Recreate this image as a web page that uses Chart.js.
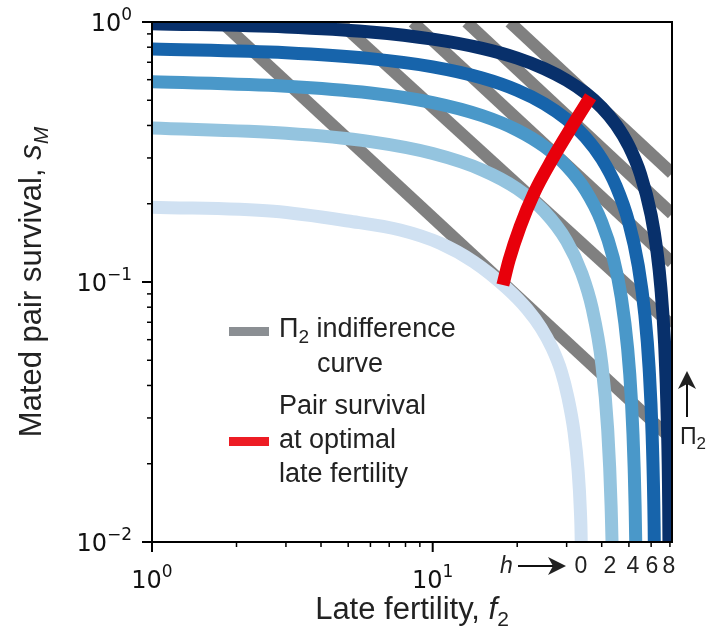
<!DOCTYPE html>
<html>
<head>
<meta charset="utf-8">
<script src="https://cdn.jsdelivr.net/npm/chart.js@4.4.0/dist/chart.umd.min.js"></script>
<style>
  html, body { margin: 0; padding: 0; background: #fff; }
  canvas { display: block; }
</style>
</head>
<body>
<canvas id="myChart" width="709" height="638"></canvas>
<script>
// h levels, one trade-off curve each
const hLevels = ['0', '2', '4', '6', '8'];
const blues = ['#d0e1f2', '#94c4df', '#4a98c9', '#1764ab', '#08306b'];

// late fertility f2 / mated pair survival sM
const fertH0 = [1, 2.71, 5, 7.66, 10.63, 14, 18.37, 21.69, 24.33, 26.62, 28.67, 30.35, 31.88, 32.95, 33.57, 33.82, 33.93];
const survH0 = [0.194, 0.187, 0.1716, 0.1585, 0.1409, 0.1195, 0.0946, 0.0787, 0.0665, 0.0557, 0.0455, 0.0358, 0.0265, 0.0189, 0.01327, 0.00974, 0.00598];
const fertH2 = [1, 3, 6, 10, 15, 20, 25, 30, 34, 37, 40, 42, 43.2, 43.8, 44.1];
const survH2 = [0.391, 0.373, 0.3465, 0.3119, 0.2698, 0.2284, 0.1867, 0.1438, 0.1077, 0.0791, 0.0487, 0.0272, 0.0138, 0.00697, 0.0035];
const fertH4 = [1, 3, 6, 10, 15, 20, 25, 30, 35, 40, 44, 47, 49.5, 51, 52.2, 52.9, 53.3];
const survH4 = [0.5888, 0.5664, 0.5333, 0.4897, 0.4362, 0.3837, 0.3316, 0.2791, 0.2256, 0.1701, 0.1235, 0.087, 0.0552, 0.0355, 0.0193, 0.00973, 0.0042];
const fertH6 = [1, 3, 6, 10, 15, 20, 25, 30, 35, 40, 45, 50, 54, 57, 59, 60.5, 61.5, 62];
const survH6 = [0.787, 0.7615, 0.723, 0.6723, 0.6093, 0.5468, 0.4846, 0.4225, 0.3602, 0.2974, 0.2338, 0.1687, 0.1154, 0.0746, 0.0468, 0.0257, 0.01146, 0.00431];
const fertH8 = [1, 3, 6, 10, 15, 20, 25, 30, 35, 40, 45, 50, 55, 60, 63, 65, 67, 68.5, 69.3, 69.8];
const survH8 = [0.9857, 0.957, 0.915, 0.859, 0.7915, 0.726, 0.661, 0.597, 0.5335, 0.469, 0.4024, 0.333, 0.2598, 0.1809, 0.1302, 0.0949, 0.0581, 0.0295, 0.0139, 0.004];

// pair survival at optimal late fertility (red)
const fertOpt = [17.78, 18.72, 20.48, 22.97, 26.56, 31.29, 36.5];
const survOpt = [0.0974, 0.1215, 0.1632, 0.22, 0.2945, 0.3957, 0.516];

// Pi2 indifference lines: f2 where they leave the top (sM = 1), sM where they leave the right side
const xMax = 71.2;
const indiffTopF = [1.77, 4.65, 8.5, 13.2, 18.8];
const indiffRightS = [0.0248, 0.068, 0.1188, 0.183, 0.262];

// ticks
const xMajor = [1, 10];
const xMinor = [2, 3, 4, 5, 6, 7, 8, 9, 20, 30, 40, 50, 60, 70];
const yMajor = [1, 0.1, 0.01];
const yMinor = [0.9, 0.8, 0.7, 0.6, 0.5, 0.4, 0.3, 0.2, 0.09, 0.08, 0.07, 0.06, 0.05, 0.04, 0.03, 0.02];
const xTickExp = ['0', '1'];
const yTickExp = ['0', '\u22121', '\u22122'];

const zip = (xs, ys) => xs.map((x, i) => ({ x: x, y: ys[i] }));

const curves = [[fertH0, survH0], [fertH2, survH2], [fertH4, survH4], [fertH6, survH6], [fertH8, survH8]];

let datasets = [];
indiffTopF.forEach((f, i) => {
    datasets.push({
        data: [{ x: f, y: 1 }, { x: xMax, y: indiffRightS[i] }],
        borderColor: '#808080', borderWidth: 12, order: 10
    });
});
curves.forEach((c, i) => {
    datasets.push({
        label: 'h = ' + hLevels[i],
        data: zip(c[0], c[1]),
        borderColor: blues[i], borderWidth: 13, order: 5 - i,
        cubicInterpolationMode: 'monotone'
    });
});
datasets.push({
    data: zip(fertOpt, survOpt),
    borderColor: '#e8000b', borderWidth: 13, order: 0,
    cubicInterpolationMode: 'monotone'
});
datasets.forEach(d => { d.pointRadius = 0; d.showLine = true; d.clip = 0; d.fill = false; });

const SANS = '"Liberation Sans", Arial, sans-serif';
const DEJA = '"DejaVu Sans", sans-serif';

function drawRuns(ctx, runs, x, y, align) {
    let w = 0;
    runs.forEach(r => { ctx.font = r.font; r.w = ctx.measureText(r.t).width; w += r.w; });
    let cx = align === 'center' ? x - w / 2 : (align === 'right' ? x - w : x);
    ctx.textAlign = 'left';
    ctx.textBaseline = 'alphabetic';
    runs.forEach(r => { ctx.font = r.font; ctx.fillText(r.t, cx, y + (r.dy || 0)); cx += r.w; });
}

function arrowHead(ctx, tx, ty, dir) {
    // dir: 'right' or 'up'
    ctx.beginPath();
    if (dir === 'right') {
        ctx.moveTo(tx, ty); ctx.lineTo(tx - 18, ty - 9); ctx.lineTo(tx - 13, ty); ctx.lineTo(tx - 18, ty + 9);
    } else {
        ctx.moveTo(tx, ty); ctx.lineTo(tx - 9, ty + 18); ctx.lineTo(tx, ty + 13); ctx.lineTo(tx + 9, ty + 18);
    }
    ctx.closePath();
    ctx.fill();
}

const extras = {
    id: 'extras',
    afterDatasetsDraw(chart) {
        const ctx = chart.ctx;
        const a = chart.chartArea;
        const xs = chart.scales.x, ys = chart.scales.y;
        ctx.save();
        ctx.strokeStyle = '#000';
        ctx.fillStyle = '#000';
        ctx.lineWidth = 2;
        ctx.strokeRect(a.left, a.top, a.right - a.left, a.bottom - a.top);

        // ticks
        const tick = (x1, y1, x2, y2, w) => { ctx.lineWidth = w; ctx.beginPath(); ctx.moveTo(x1, y1); ctx.lineTo(x2, y2); ctx.stroke(); };
        xMajor.forEach(v => { const p = xs.getPixelForValue(v); tick(p, a.bottom, p, a.bottom + 10, 2); });
        xMinor.forEach(v => { const p = xs.getPixelForValue(v); tick(p, a.bottom, p, a.bottom + 5, 1.5); });
        yMajor.forEach(v => { const p = ys.getPixelForValue(v); tick(a.left, p, a.left - 10, p, 2); });
        yMinor.forEach(v => { const p = ys.getPixelForValue(v); tick(a.left, p, a.left - 5, p, 1.5); });

        // tick labels
        ctx.fillStyle = '#111';
        xMajor.forEach((v, i) => {
            drawRuns(ctx, [{ t: '10', font: '24px ' + DEJA }, { t: xTickExp[i], font: '17px ' + DEJA, dy: -11 }],
                xs.getPixelForValue(v), a.bottom + 46, 'center');
        });
        yMajor.forEach((v, i) => {
            drawRuns(ctx, [{ t: '10', font: '24px ' + DEJA }, { t: yTickExp[i], font: '17px ' + DEJA, dy: -11 }],
                a.left - 20, ys.getPixelForValue(v) + 9, 'right');
        });

        // axis titles
        ctx.fillStyle = '#222';
        drawRuns(ctx, [{ t: 'Late fertility, ', font: '31px ' + SANS }, { t: 'f', font: 'italic 31px ' + SANS },
            { t: '2', font: '21px ' + SANS, dy: 7 }], (a.left + a.right) / 2, 619, 'center');
        ctx.save();
        ctx.translate(41, (a.top + a.bottom) / 2);
        ctx.rotate(-Math.PI / 2);
        drawRuns(ctx, [{ t: 'Mated pair survival, ', font: '31px ' + SANS }, { t: 's', font: 'italic 31px ' + SANS },
            { t: 'M', font: 'italic 21px ' + SANS, dy: 7 }], 0, 0, 'center');
        ctx.restore();

        // legend
        ctx.lineCap = 'butt';
        ctx.strokeStyle = '#8b8f93'; ctx.lineWidth = 9;
        ctx.beginPath(); ctx.moveTo(229, 331.5); ctx.lineTo(269, 331.5); ctx.stroke();
        ctx.strokeStyle = '#ed1c24';
        ctx.beginPath(); ctx.moveTo(229, 441.5); ctx.lineTo(269, 441.5); ctx.stroke();
        const LF = '27px ' + SANS;
        drawRuns(ctx, [{ t: '\u03a0', font: LF }, { t: '2', font: '19px ' + SANS, dy: 6 }, { t: ' indifference', font: LF }], 279, 337, 'left');
        drawRuns(ctx, [{ t: 'curve', font: LF }], 317, 372, 'left');
        drawRuns(ctx, [{ t: 'Pair survival', font: LF }], 279, 414, 'left');
        drawRuns(ctx, [{ t: 'at optimal', font: LF }], 279, 448, 'left');
        drawRuns(ctx, [{ t: 'late fertility', font: LF }], 279, 482, 'left');

        // h annotation under the axis
        const AF = '23px ' + SANS;
        drawRuns(ctx, [{ t: 'h', font: 'italic ' + AF }], 500, 573, 'left');
        ctx.strokeStyle = '#111'; ctx.lineWidth = 2;
        ctx.beginPath(); ctx.moveTo(518, 566); ctx.lineTo(554, 566); ctx.stroke();
        arrowHead(ctx, 566, 566, 'right');
        const hPos = [581, 610, 633, 652, 669];
        hLevels.forEach((h, i) => drawRuns(ctx, [{ t: h, font: AF }], hPos[i], 573, 'center'));

        // Pi2 arrow on the right
        ctx.beginPath(); ctx.moveTo(687, 417); ctx.lineTo(687, 382); ctx.stroke();
        arrowHead(ctx, 687, 371, 'up');
        drawRuns(ctx, [{ t: '\u03a0', font: AF }, { t: '2', font: '17px ' + SANS, dy: 5 }], 680, 444, 'left');
        ctx.restore();
    }
};

const ctx = document.getElementById('myChart').getContext('2d');
const myChart = new Chart(ctx, {
    type: 'scatter',
    data: { datasets: datasets },
    options: {
        responsive: false,
        animation: false,
        devicePixelRatio: 1,
        layout: { padding: { left: 152, right: 37, top: 22, bottom: 96 } },
        plugins: { legend: { display: false }, tooltip: { enabled: false } },
        scales: {
            x: { type: 'logarithmic', min: 1, max: xMax, display: false },
            y: { type: 'logarithmic', min: 0.01, max: 1, display: false }
        }
    },
    plugins: [extras]
});
</script>
</body>
</html>
